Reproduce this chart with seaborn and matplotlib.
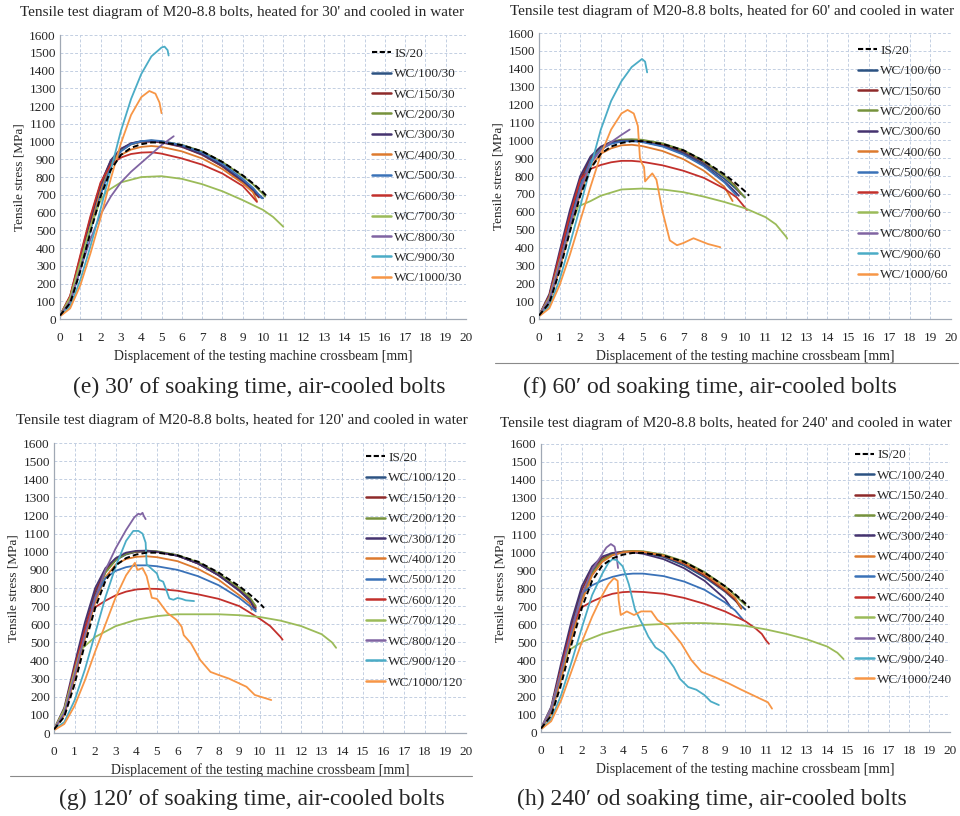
import matplotlib
matplotlib.use("Agg")
import matplotlib.pyplot as plt
import seaborn as sns
from matplotlib.lines import Line2D

sns.set_style("white")
plt.rcParams["font.family"] = ["Liberation Serif", "DejaVu Serif"]

# series (legend order) and colours
series = ["IS/20", "WC/100", "WC/150", "WC/200", "WC/300", "WC/400",
          "WC/500", "WC/600", "WC/700", "WC/800", "WC/900", "WC/1000"]
colores = ["black", "#2C5282", "#8E2A2A", "#76923C", "#45336F", "#DD7A2E",
           "#3A72B8", "#C2302C", "#9BBB59", "#8064A2", "#4BACC6", "#F79646"]

X17 = [0, 0.5, 1, 1.5, 2, 2.5, 3, 3.5, 4, 4.5, 5, 6, 7, 8, 9]

# ---- IS/20 reference (same in all four charts)
is20_x = X17 + [9.5, 10, 10.2]
is20_y = [20, 90, 270, 490, 690, 840, 925, 965, 985, 995, 995, 980, 945, 885, 810, 765, 715, 690]

# ---- 30 min
d30 = {
    "WC/100": (X17 + [9.5, 10], [20, 110, 320, 540, 740, 880, 955, 990, 1003, 1005, 1000, 975, 930, 865, 780, 730, 680]),
    "WC/150": (X17 + [9.5, 9.8], [20, 130, 350, 570, 760, 890, 955, 985, 998, 1000, 995, 970, 925, 860, 770, 720, 685]),
    "WC/200": (X17 + [9.5, 10, 10.1], [20, 100, 300, 520, 720, 870, 950, 985, 1000, 1005, 1002, 982, 945, 885, 805, 760, 705, 690]),
    "WC/300": (X17 + [9.5, 9.9], [20, 120, 340, 560, 760, 895, 960, 990, 1000, 1002, 998, 972, 928, 862, 775, 725, 685]),
    "WC/400": (X17 + [9.5, 9.7], [20, 100, 300, 520, 720, 860, 925, 955, 970, 975, 970, 945, 905, 845, 765, 715, 665]),
    "WC/500": (X17 + [9.5, 9.95], [20, 90, 280, 500, 700, 860, 945, 985, 1002, 1008, 1003, 980, 938, 875, 790, 740, 680]),
    "WC/600": (X17 + [9.4, 9.7], [20, 130, 360, 580, 770, 870, 910, 930, 938, 940, 932, 905, 870, 820, 750, 700, 660]),
    "WC/700": ([0, 0.5, 1, 1.5, 2, 2.3, 3, 4, 5, 6, 7, 8, 9, 10, 10.5, 11],
               [20, 120, 320, 520, 670, 720, 770, 800, 805, 790, 760, 720, 670, 615, 575, 520]),
    "WC/800": ([0, 0.5, 1, 1.5, 2, 2.5, 3, 3.5, 4, 4.5, 5, 5.6],
               [20, 100, 280, 450, 590, 690, 770, 830, 880, 930, 980, 1030]),
    "WC/900": ([0, 0.5, 1, 1.5, 2, 2.5, 3, 3.5, 4, 4.5, 5, 5.15, 5.3, 5.35],
               [20, 70, 220, 410, 620, 840, 1060, 1240, 1380, 1480, 1530, 1535, 1515, 1485]),
    "WC/1000": ([0, 0.5, 1, 1.5, 2, 2.5, 3, 3.5, 4, 4.4, 4.7, 4.9, 5.0],
                [15, 60, 190, 370, 570, 790, 990, 1150, 1250, 1285, 1270, 1220, 1160]),
}

# ---- 60 min
d60 = {
    "WC/100": (X17 + [9.5, 10], [20, 110, 320, 560, 760, 895, 955, 985, 998, 1000, 997, 975, 932, 870, 785, 735, 680]),
    "WC/150": (X17 + [9.5, 9.8], [20, 130, 360, 580, 780, 900, 960, 990, 1000, 1002, 998, 978, 940, 880, 800, 750, 700]),
    "WC/200": (X17 + [9.5, 10], [20, 100, 300, 520, 730, 880, 960, 992, 1004, 1006, 1003, 983, 945, 885, 800, 745, 680]),
    "WC/300": (X17 + [9.5, 9.7], [20, 140, 380, 610, 800, 910, 965, 990, 998, 998, 993, 968, 925, 860, 770, 715, 690]),
    "WC/400": (X17 + [9.4], [20, 90, 280, 500, 700, 850, 925, 955, 972, 975, 968, 940, 895, 830, 740, 660]),
    "WC/500": (X17 + [9.6], [20, 100, 310, 530, 740, 885, 950, 980, 993, 995, 990, 965, 920, 855, 765, 690]),
    "WC/600": (X17 + [9.6, 10.1], [20, 130, 360, 580, 780, 840, 862, 877, 885, 885, 880, 860, 830, 790, 730, 680, 610]),
    "WC/700": ([0, 0.5, 1, 1.5, 1.9, 2.5, 3, 4, 5, 6, 7, 8, 9, 10, 11, 11.5, 12, 12.05],
               [20, 120, 320, 500, 630, 660, 690, 725, 730, 725, 710, 685, 655, 620, 570, 530, 460, 450]),
    "WC/800": ([0, 0.5, 1, 1.5, 2, 2.5, 3, 3.5, 4, 4.4],
               [20, 110, 310, 520, 720, 870, 945, 990, 1030, 1060]),
    "WC/900": ([0, 0.5, 1, 1.5, 2, 2.5, 3, 3.5, 4, 4.5, 5.0, 5.15, 5.25],
               [20, 70, 220, 420, 630, 850, 1060, 1220, 1330, 1410, 1455, 1440, 1380]),
    "WC/1000": ([0, 0.5, 1, 1.5, 2, 2.5, 3, 3.5, 4, 4.3, 4.6, 4.8, 4.9, 5.0, 5.1, 5.15, 5.3, 5.5, 5.7, 6.0, 6.35,
                 6.7, 7.0, 7.5, 8.2, 8.8],
                [15, 60, 190, 360, 550, 740, 920, 1060, 1150, 1170, 1150, 1080, 900, 870, 850, 770, 790, 815, 780,
                 600, 440, 413, 425, 452, 420, 402]),
}

# ---- 120 min
d120 = {
    "WC/100": (X17 + [9.5, 9.8], [20, 110, 330, 560, 760, 890, 955, 985, 1000, 1003, 1000, 978, 935, 870, 785, 730, 680]),
    "WC/150": (X17 + [9.5, 9.8], [20, 130, 360, 580, 780, 900, 960, 990, 1000, 1003, 999, 978, 935, 870, 790, 740, 690]),
    "WC/200": (X17 + [9.5, 9.8], [20, 100, 310, 530, 740, 885, 955, 988, 1002, 1006, 1003, 982, 942, 880, 800, 750, 700]),
    "WC/300": (X17 + [9.5, 9.7], [20, 140, 380, 610, 800, 910, 965, 995, 1005, 1006, 1000, 978, 935, 870, 785, 735, 690]),
    "WC/400": (X17 + [9.5, 9.6], [20, 100, 300, 520, 720, 860, 930, 960, 972, 975, 970, 948, 905, 845, 760, 715, 680]),
    "WC/500": (X17 + [9.5, 9.8], [20, 120, 340, 560, 750, 855, 895, 915, 925, 925, 920, 900, 865, 815, 745, 700, 670]),
    "WC/600": ([0, 0.5, 1, 1.5, 1.8, 2.5, 3, 3.5, 4, 4.5, 5, 6, 7, 8, 9, 10, 10.5, 11, 11.1],
               [20, 130, 360, 570, 680, 730, 760, 780, 792, 796, 795, 785, 765, 740, 700, 630, 590, 530, 515]),
    "WC/700": ([0, 0.5, 1, 1.3, 2, 3, 4, 5, 6, 7, 8, 9, 10, 11, 12, 13, 13.5, 13.7],
               [20, 130, 340, 460, 530, 590, 625, 645, 655, 655, 655, 650, 640, 620, 590, 545, 500, 470]),
    "WC/800": ([0, 0.5, 1, 1.5, 2, 2.5, 3, 3.5, 3.9, 4.1, 4.2, 4.3, 4.35, 4.45],
               [20, 110, 320, 540, 740, 900, 1020, 1120, 1190, 1210, 1205, 1215, 1200, 1180]),
    "WC/900": ([0, 0.5, 1, 1.5, 2, 2.5, 3, 3.5, 3.85, 4.1, 4.3, 4.45, 4.5, 4.7, 4.9, 5.0, 5.1, 5.3, 5.45, 5.6, 5.8,
                6.0, 6.2, 6.4, 6.8],
               [20, 60, 180, 350, 550, 750, 920, 1060, 1115, 1115, 1100, 1050, 930, 910, 890, 880, 845, 835, 790,
                742, 735, 745, 740, 732, 728]),
    "WC/1000": ([0, 0.5, 1, 1.5, 2, 2.5, 3, 3.5, 3.93, 4.05, 4.3, 4.5, 4.75, 5.0, 5.5, 5.95, 6.2, 6.3, 6.65, 7.1,
                 7.6, 8.0, 8.5, 9.35, 9.75, 10.55],
                [15, 50, 150, 290, 450, 600, 750, 870, 939, 900, 910, 865, 746, 740, 663, 624, 586, 540, 495, 403,
                 337, 320, 300, 255, 210, 182]),
}

# ---- 240 min
d240 = {
    "WC/100": (X17 + [9.5, 10], [20, 110, 330, 560, 760, 890, 955, 985, 998, 1000, 996, 972, 925, 860, 780, 730, 680]),
    "WC/150": (X17 + [9.5, 9.8], [20, 130, 370, 600, 790, 905, 965, 992, 1002, 1004, 1000, 978, 935, 870, 785, 735, 685]),
    "WC/200": (X17 + [9.5, 10], [20, 100, 310, 530, 740, 880, 955, 988, 1002, 1006, 1004, 985, 948, 888, 810, 760, 705]),
    "WC/300": (X17 + [9.3], [20, 140, 390, 620, 810, 920, 975, 995, 1000, 998, 990, 960, 910, 840, 740, 690]),
    "WC/400": (X17 + [9.5, 9.8], [20, 100, 300, 520, 725, 870, 945, 982, 998, 1004, 1001, 980, 940, 878, 795, 745, 690]),
    "WC/500": (X17 + [9.5, 9.9], [20, 120, 340, 570, 770, 815, 842, 862, 875, 880, 880, 866, 836, 790, 720, 675, 622]),
    "WC/600": ([0, 0.5, 1, 1.5, 1.95, 2.5, 3, 3.5, 4, 4.5, 5, 6, 7, 8, 9, 10, 10.5, 10.8, 11.0, 11.15],
               [20, 130, 360, 580, 690, 725, 750, 768, 777, 780, 778, 768, 745, 712, 670, 615, 575, 545, 510, 490]),
    "WC/700": ([0, 0.5, 1, 1.3, 2, 3, 4, 5, 6, 7, 8, 9, 10, 11, 12, 13, 14, 14.5, 14.8],
               [20, 130, 340, 450, 500, 545, 575, 595, 600, 605, 605, 600, 590, 570, 545, 515, 475, 440, 405]),
    "WC/800": ([0, 0.5, 1, 1.5, 2, 2.5, 3, 3.2, 3.42, 3.6, 3.7, 3.77],
               [20, 130, 340, 560, 760, 900, 990, 1025, 1044, 1030, 975, 911]),
    "WC/900": ([0, 0.5, 1, 1.5, 2, 2.5, 3, 3.3, 3.5, 3.7, 4.0, 4.3, 4.6, 5.0, 5.25, 5.6, 6.0, 6.5, 6.8, 7.2, 7.6,
                8.0, 8.3, 8.7],
               [15, 70, 210, 390, 580, 760, 880, 940, 960, 955, 920, 820, 680, 590, 530, 470, 440, 360, 295, 250,
                235, 205, 170, 150]),
    "WC/1000": ([0, 0.5, 1, 1.5, 2, 2.5, 3, 3.3, 3.57, 3.75, 3.8, 3.9, 4.2, 4.55, 4.9, 5.4, 5.7, 6.2, 6.85, 7.35,
                 7.85, 8.5, 9.15, 9.8, 10.45, 11.1, 11.3],
                [15, 60, 180, 340, 500, 640, 760, 820, 855, 840, 733, 650, 670, 650, 670, 670, 622, 585, 494, 400,
                 335, 305, 272, 235, 200, 165, 130]),
}

paneles = [
    # minutes, data, axes rect, title centre, caption text, caption centre, legend anchor
    ("30", d30, [0.0625, 0.609, 0.423, 0.348], (242, 12), "(e) 30\u2032 of soaking time, air-cooled bolts", (259, 387), (0.768, 0.956)),
    ("60", d60, [0.5615, 0.609, 0.429, 0.3505], (732, 11), "(f) 60\u2032 od soaking time, air-cooled bolts", (710, 387), (0.774, 0.960)),
    ("120", d120, [0.05625, 0.1017, 0.429, 0.3554], (242, 420), "(g) 120\u2032 of soaking time, air-cooled bolts", (252, 799), (0.757, 0.970)),
    ("240", d240, [0.5635, 0.1029, 0.426, 0.353], (726, 423), "(h) 240\u2032 od soaking time, air-cooled bolts", (712, 799), (0.768, 0.982)),
]

W, H = 960, 816
fig = plt.figure(figsize=(9.6, 8.16), dpi=100)

for minutos, datos, rect, tpos, caption, cpos, legpos in paneles:
    ax = fig.add_axes(rect)
    handles = []
    for nombre, color in zip(series[1:], colores[1:]):
        xs, ys = datos[nombre]
        sns.lineplot(x=xs, y=ys, ax=ax, color=color, lw=1.3, sort=False, estimator=None)
        handles.append(Line2D([], [], color=color, lw=1.8, label=f"{nombre}/{minutos}"))
    sns.lineplot(x=is20_x, y=is20_y, ax=ax, color="black", lw=1.4, linestyle=(0, (3, 1.6)),
                 sort=False, estimator=None, zorder=5)
    handles.insert(0, Line2D([], [], color="black", lw=1.5, linestyle=(0, (2.5, 1.2)), label="IS/20"))

    ax.set_xlim(0, 20)
    ax.set_ylim(0, 1600)
    ax.set_xticks(range(0, 21))
    ax.set_yticks(range(0, 1601, 100))
    ax.grid(True, color="#C3CFE2", linestyle=(0, (3, 2)), lw=0.7)
    for s in ["top", "right"]:
        ax.spines[s].set_visible(False)
    for s in ["left", "bottom"]:
        ax.spines[s].set_color("#A0A8B4")
        ax.spines[s].set_linewidth(0.9)
    ax.tick_params(length=0, labelsize=9.5)
    ax.tick_params(axis="x", pad=9)
    ax.tick_params(axis="y", pad=3)
    ax.set_xlabel("Displacement of the testing machine crossbeam [mm]", fontsize=9.9, labelpad=4)
    ax.set_ylabel("Tensile stress [MPa]", fontsize=9.5, labelpad=3)

    ax.legend(handles=handles, loc="upper left", bbox_to_anchor=legpos, frameon=False,
              fontsize=9.5, handlelength=1.45, handletextpad=0.25, labelspacing=0.62,
              borderaxespad=0, borderpad=0)

    fig.text(tpos[0] / W, 1 - tpos[1] / H,
             f"Tensile test diagram of M20-8.8 bolts, heated for {minutos}' and cooled in water",
             ha="center", va="center", fontsize=11)
    fig.text(cpos[0] / W, 1 - cpos[1] / H, caption, ha="center", va="center", fontsize=17)

# thin separator rules under panels (f) and (g)
fig.add_artist(Line2D([495 / W, 958 / W], [1 - 363 / H, 1 - 363 / H], color="#8A8A8A", lw=0.8))
fig.add_artist(Line2D([10 / W, 472 / W], [1 - 776 / H, 1 - 776 / H], color="#8A8A8A", lw=0.8))

fig.savefig("out.png", dpi=100)
